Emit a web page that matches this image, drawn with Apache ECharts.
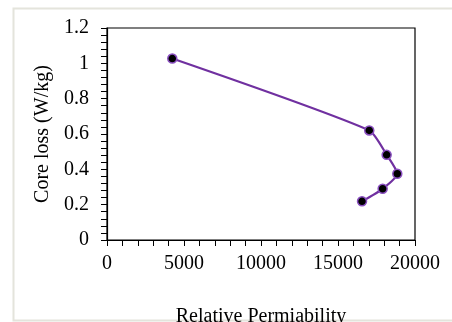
<!DOCTYPE html>
<html>
<head>
<meta charset="utf-8">
<script src="https://cdn.jsdelivr.net/npm/echarts@6/dist/echarts.min.js"></script>
<style>
html,body{margin:0;padding:0;background:#fff;}
#chart{width:452px;height:322px;}
</style>
</head>
<body>
<div id="chart"></div>
<script>
// 数据：相对磁导率 与 铁损
var permeability = [4240, 17030, 18160, 18850, 17900, 16560];
var coreLoss = [1.027, 0.620, 0.482, 0.375, 0.290, 0.219];
var xTicks = [0, 5000, 10000, 15000, 20000];
var yTicks = [0, 0.2, 0.4, 0.6, 0.8, 1, 1.2];

var fontFam = '"Liberation Serif", "Times New Roman", serif';
var points = permeability.map(function(v, i){ return [v, coreLoss[i]]; });

var chart = echarts.init(document.getElementById('chart'), null, {renderer:'canvas'});
chart.setOption({
	animation: false,
	backgroundColor: '#fff',
	graphic: [{
		type: 'rect',
		shape: {x: 13.5, y: 8.5, width: 500, height: 312},
		style: {fill: 'none', stroke: '#e4e4dc', lineWidth: 2},
		silent: true,
		z: -1
	}],
	grid: {
		left: 107, right: 37, top: 28, bottom: 82,
		outerBoundsMode: 'none',
		show: true, borderColor: '#000', borderWidth: 1.2, backgroundColor: 'transparent'
	},
	xAxis: {
		type: 'value',
		min: xTicks[0], max: xTicks[xTicks.length - 1], interval: 5000,
		name: 'Relative Permiability',
		nameLocation: 'middle', nameGap: 67,
		nameTextStyle: {fontFamily: fontFam, fontSize: 20, color: '#000'},
		axisLine: {show: true, lineStyle: {color: '#000', width: 1.2}},
		axisTick: {show: true, length: 6, lineStyle: {color: '#000'}},
		minorTick: {show: true, splitNumber: 5, length: 6, lineStyle: {color: '#000'}},
		splitLine: {show: false},
		axisLabel: {fontFamily: fontFam, fontSize: 20, color: '#000', margin: 14,
			formatter: function(v){ return String(v); }}
	},
	yAxis: {
		type: 'value',
		min: yTicks[0], max: yTicks[yTicks.length - 1], interval: 0.2,
		name: 'Core loss (W/kg)',
		nameLocation: 'middle', nameGap: 50,
		nameTextStyle: {fontFamily: fontFam, fontSize: 20, color: '#000'},
		axisLine: {show: true, lineStyle: {color: '#000', width: 1.2}},
		axisTick: {show: true, length: 6, lineStyle: {color: '#000'}},
		minorTick: {show: true, splitNumber: 5, length: 6, lineStyle: {color: '#000'}},
		splitLine: {show: false},
		axisLabel: {fontFamily: fontFam, fontSize: 20, color: '#000', margin: 18,
			formatter: function(v){ return String(Math.round(v * 10) / 10); }}
	},
	series: [{
		type: 'line',
		data: points,
		smooth: 0.2,
		symbol: 'circle',
		symbolSize: 9,
		lineStyle: {color: '#7030a0', width: 2.2},
		itemStyle: {color: '#000', borderColor: '#8a4fc0', borderWidth: 1.5}
	}]
});
</script>
</body>
</html>
